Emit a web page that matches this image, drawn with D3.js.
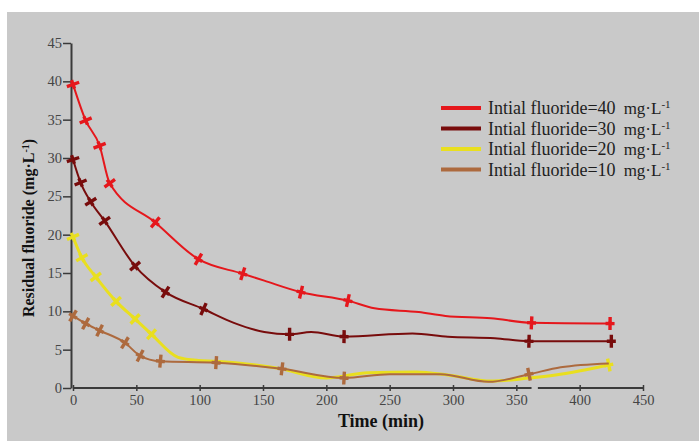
<!DOCTYPE html>
<html>
<head>
<meta charset="utf-8">
<script src="https://cdn.jsdelivr.net/npm/d3@7"></script>
<style>
  body { margin: 0; background: #fff; }
  svg { display: block; font-family: "Liberation Serif", "Times New Roman", serif; }
</style>
</head>
<body>
<div id="chart"></div>
<script>
// time (min) and residual fluoride (mg/L) for each initial concentration
const xTicks = [0, 50, 100, 150, 200, 250, 300, 350, 400, 450];
const yTicks = [0, 5, 10, 15, 20, 25, 30, 35, 40, 45];

const time40 = [0, 10, 21, 29, 65, 99, 134, 151, 180, 217, 238, 273, 294, 330, 362, 424];
const value40 = [39.6, 34.9, 31.6, 26.7, 21.6, 16.8, 14.9, 14.0, 12.5, 11.4, 10.4, 9.9, 9.4, 9.1, 8.5, 8.4];
const marks40 = [0, 10, 21, 29, 65, 99, 134, 180, 217, 362, 424];

const time30 = [0, 6, 14, 25, 49, 73, 103, 127, 151, 171, 188, 214, 268, 296, 333, 360, 425];
const value30 = [29.8, 26.8, 24.3, 21.8, 15.9, 12.5, 10.3, 8.5, 7.3, 7.0, 7.3, 6.7, 7.1, 6.7, 6.5, 6.1, 6.1];
const marks30 = [0, 6, 14, 25, 49, 73, 103, 171, 214, 360, 425];

const time20 = [0, 7, 18, 34, 49, 62, 83, 99, 113, 164, 200, 233, 271, 296, 330, 360, 381, 423];
const value20 = [19.7, 17.0, 14.5, 11.3, 9.0, 7.0, 4.0, 3.6, 3.5, 2.5, 1.3, 2.0, 2.1, 1.7, 0.9, 1.3, 1.7, 3.0];
const marks20 = [0, 7, 18, 34, 49, 62, 423];

const time10 = [0, 10, 21, 41, 53, 69, 113, 165, 214, 250, 290, 328, 360, 385, 423];
const value10 = [9.4, 8.4, 7.5, 5.9, 4.2, 3.5, 3.3, 2.5, 1.3, 1.8, 1.8, 0.8, 1.8, 2.7, 3.2];
const marks10 = [0, 10, 21, 41, 53, 69, 113, 165, 214, 360];

const legendLabels = ["Intial fluoride=40", "Intial fluoride=30", "Intial fluoride=20", "Intial fluoride=10"];

const series = [
  { label: legendLabels[0], t: time40, v: value40, marks: marks40, color: "#e5171c", width: 2 },
  { label: legendLabels[1], t: time30, v: value30, marks: marks30, color: "#780c0c", width: 2 },
  { label: legendLabels[2], t: time20, v: value20, marks: marks20, color: "#e9df1f", width: 3 },
  { label: legendLabels[3], t: time10, v: value10, marks: marks10, color: "#ad6a3e", width: 2 }
];

const W = 699, H = 441;

const svg = d3.select("#chart").append("svg")
  .attr("width", W)
  .attr("height", H);

// gray page area
svg.append("rect")
  .attr("x", 7).attr("y", 12)
  .attr("width", W - 7).attr("height", H - 12)
  .attr("fill", "#c9c9c9");

const x = d3.scaleLinear().domain([0, 450]).range([73, 643]);
const y = d3.scaleLinear().domain([0, 45]).range([388, 43]);

const axisColor = "#3a3a3a";

// x axis, broken between 362 and 367 min
const xAxis = svg.append("g")
  .attr("transform", `translate(0,${y(0)})`)
  .call(d3.axisBottom(x).tickValues(xTicks).tickSize(3).tickPadding(4));
xAxis.select(".domain").remove();
xAxis.selectAll(".tick line").attr("y1", -3).attr("stroke", axisColor).attr("stroke-width", 1.5);
xAxis.selectAll("text").attr("font-family", "Liberation Serif, serif").attr("font-size", 14.5).attr("fill", "#454545");
[[0, 362], [367, 450]].forEach(([a, b]) => {
  xAxis.append("line")
    .attr("x1", x(a)).attr("x2", x(b))
    .attr("stroke", axisColor).attr("stroke-width", 2);
});

// y axis
const yAxis = svg.append("g")
  .attr("transform", `translate(${x(0) - 2},0)`)
  .call(d3.axisLeft(y).tickValues(yTicks).tickSize(8).tickSizeOuter(0).tickPadding(1));
yAxis.select(".domain").attr("stroke", axisColor).attr("stroke-width", 2);
yAxis.selectAll(".tick line").attr("stroke", axisColor).attr("stroke-width", 1.5);
yAxis.selectAll("text").attr("font-family", "Liberation Serif, serif").attr("font-size", 14.5).attr("fill", "#454545");

// axis titles
svg.append("text")
  .attr("x", 381).attr("y", 427)
  .attr("text-anchor", "middle")
  .attr("font-size", 18).attr("font-weight", "bold").attr("fill", "#111")
  .text("Time (min)");

const yTitle = svg.append("text")
  .attr("transform", "translate(34,228) rotate(-90)")
  .attr("text-anchor", "middle")
  .attr("font-size", 16).attr("font-weight", "bold").attr("fill", "#111");
yTitle.append("tspan").text("Residual fluoride (mg·L");
yTitle.append("tspan").attr("font-size", 10).attr("baseline-shift", "super").text("-1");
yTitle.append("tspan").text(")");

const line = d3.line()
  .x(d => x(d[0]))
  .y(d => y(d[1]))
  .curve(d3.curveMonotoneX);

// draw order: yellow, brown, dark red, red
[2, 3, 1, 0].forEach(i => {
  const s = series[i];
  const pts = s.t.map((t, j) => [t, s.v[j]]);
  svg.append("path")
    .datum(pts)
    .attr("d", line)
    .attr("fill", "none")
    .attr("stroke", s.color)
    .attr("stroke-width", s.width)
    .attr("stroke-linejoin", "round");

  // cross-shaped markers oriented along the curve
  const markPts = pts.map((p, j) => ({ p, j })).filter(d => s.marks.includes(d.p[0]));
  svg.append("g").selectAll("path")
    .data(markPts)
    .join("path")
    .attr("d", "M0,-6.5L0,6.5M-4.5,0L4.5,0")
    .attr("transform", d => {
      const a = pts[Math.max(d.j - 1, 0)], b = pts[Math.min(d.j + 1, pts.length - 1)];
      const ang = Math.atan2(y(b[1]) - y(a[1]), x(b[0]) - x(a[0])) * 180 / Math.PI;
      return `translate(${x(d.p[0])},${y(d.p[1])}) rotate(${ang})`;
    })
    .attr("stroke", s.color)
    .attr("stroke-width", 3.4)
    .attr("fill", "none");
});

// legend
const legend = svg.append("g").attr("transform", "translate(441,108)");
series.forEach((s, i) => {
  const row = legend.append("g").attr("transform", `translate(0,${i * 20.5})`);
  row.append("line")
    .attr("x1", 0).attr("x2", 40)
    .attr("stroke", s.color).attr("stroke-width", 4);
  const t = row.append("text")
    .attr("x", 47).attr("y", 6)
    .attr("font-size", 18).attr("fill", "#1e1e1e");
  t.append("tspan").text(s.label);
  t.append("tspan").attr("dx", 8).attr("font-size", 17).text("mg·L");
  t.append("tspan").attr("font-size", 11).attr("baseline-shift", "super").text("-1");
});
</script>
</body>
</html>
